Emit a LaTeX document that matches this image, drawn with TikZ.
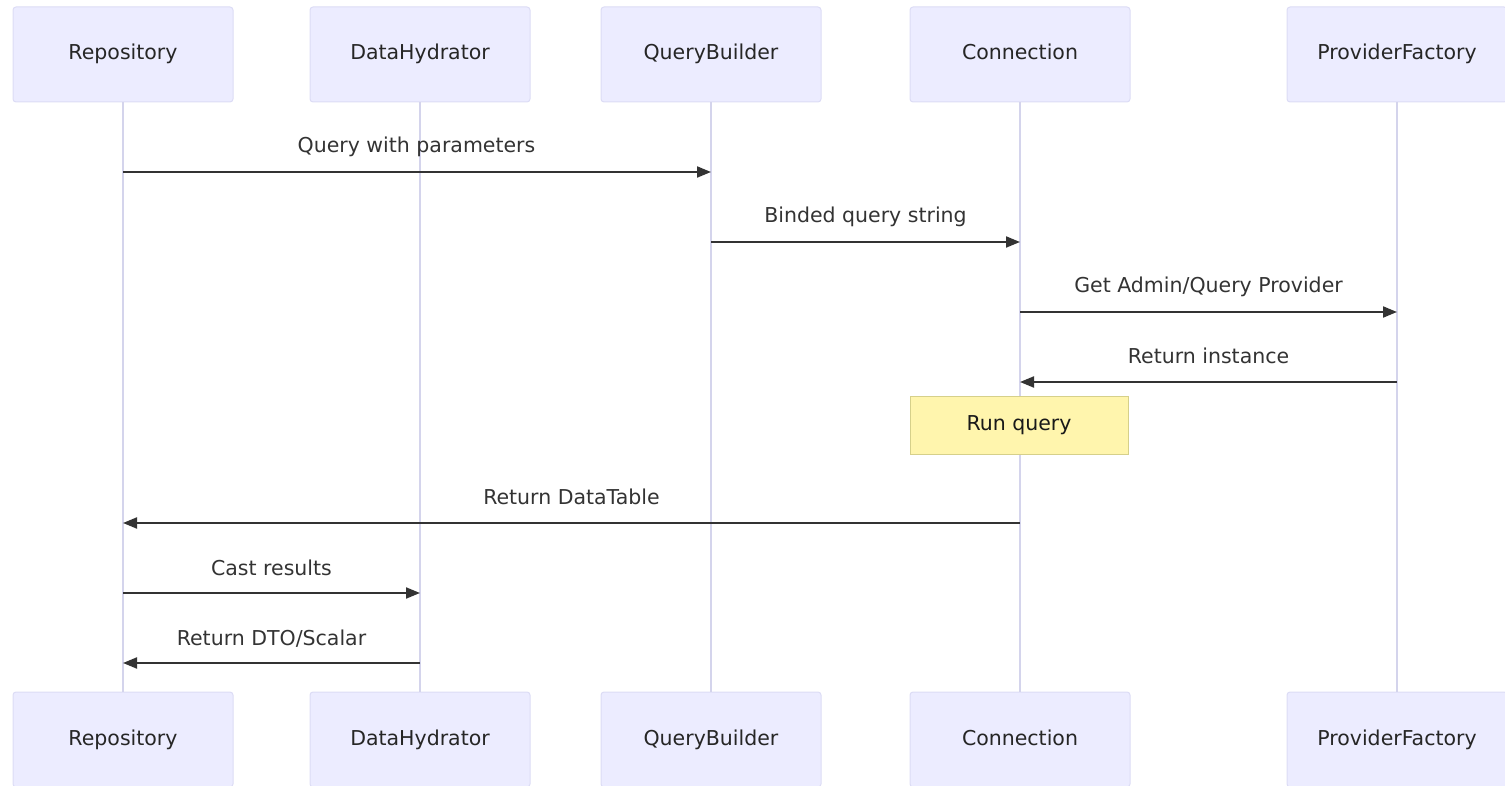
\documentclass[tikz,border=0pt]{standalone}
\usepackage{fontspec}
\setmainfont{DejaVu Sans}
\usetikzlibrary{arrows.meta}
\definecolor{actorfill}{HTML}{ECECFF}
\definecolor{actorline}{HTML}{DCDCF5}
\definecolor{lifeline}{HTML}{D4D4EC}
\definecolor{msgline}{HTML}{333333}
\definecolor{notefill}{HTML}{FFF5AD}
\definecolor{noteline}{HTML}{D6D08A}
\tikzset{
  txt/.style={font=\fontsize{20.5}{24}\selectfont},
  actor/.style={txt, draw=actorline, fill=actorfill, line width=1pt, rounded corners=3pt,
    minimum width=220pt, minimum height=95pt, inner sep=0pt,
    text height=15pt, text depth=4pt, text=black!85},
  life/.style={draw=lifeline, line width=1.6pt},
  msg/.style={draw=msgline, line width=2pt, -{Triangle[length=14pt,width=11pt]}},
  lbl/.style={txt, text=msgline, anchor=base},
  note/.style={txt, draw=noteline, fill=notefill, line width=1pt,
    minimum width=218pt, minimum height=58pt, inner sep=0pt,
    text height=15pt, text depth=4pt, text=black!90}
}
\begin{document}
\begin{tikzpicture}[x=1pt,y=-1pt]
\useasboundingbox (0,0) rectangle (1505,786);
% participants, top row and bottom row
\foreach \n/\t/\x in {rep/Repository/123, hyd/DataHydrator/420, qb/QueryBuilder/711, con/Connection/1020, pf/ProviderFactory/1397}{
  \node[actor] (\n T) at (\x,54.5) {\t};
  \node[actor] (\n B) at (\x,739.5) {\t};
  \draw[life] (\n T.south) -- (\n B.north);
}
% message end points on the lifelines
\foreach \n/\x in {rep/123, hyd/420, qb/711, con/1020, pf/1397}{
  \foreach \k/\y in {1/172, 2/242, 3/312, 4/382, 5/523, 6/593, 7/663}{
    \coordinate (\n\k) at (\x,\y);
  }
}
% messages
\draw[msg] (rep1) -- (qb1);
\node[lbl] (l1) at (416.5,153) {Query with parameters};
\draw[msg] (qb2) -- (con2);
\node[lbl] (l2) at (865.5,223) {Binded query string};
\draw[msg] (con3) -- (pf3);
\node[lbl] (l3) at (1208.5,293) {Get Admin/Query Provider};
\draw[msg] (pf4) -- (con4);
\node[lbl] (l4) at (1208.5,363) {Return instance};
% note over Connection
\node[note] (nq) at (1019,425) {Run query};
\draw[msg] (con5) -- (rep5);
\node[lbl] (l5) at (571.5,504) {Return DataTable};
\draw[msg] (rep6) -- (hyd6);
\node[lbl] (l6) at (271.5,575) {Cast results};
\draw[msg] (hyd7) -- (rep7);
\node[lbl] (l7) at (271.5,645) {Return DTO/Scalar};
\end{tikzpicture}
\end{document}
